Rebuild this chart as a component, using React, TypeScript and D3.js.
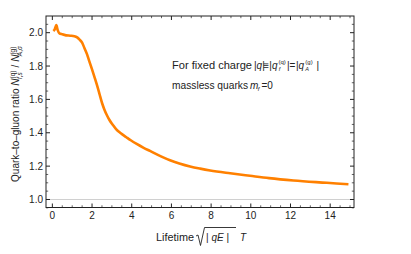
import React from "react";
import * as d3 from "d3";

// curve (lifetime, ratio)
const lifetime = [0.05, 0.12, 0.2, 0.27, 0.35, 0.5, 0.69, 0.9, 1.11, 1.25, 1.36, 1.5, 1.61, 1.75, 1.86, 2.0, 2.12, 2.25, 2.37, 2.5, 2.62, 2.75, 2.87, 3.05, 3.21, 3.45, 3.71, 3.95, 4.25, 4.6, 4.92, 5.5, 5.93, 6.4, 6.94, 7.45, 7.95, 8.96, 9.96, 10.92, 12.15, 13.83, 14.92];
const ratio = [2.01, 2.02, 2.045, 2.015, 1.997, 1.99, 1.984, 1.982, 1.979, 1.972, 1.96, 1.94, 1.91, 1.87, 1.83, 1.78, 1.735, 1.685, 1.635, 1.58, 1.54, 1.505, 1.478, 1.447, 1.422, 1.397, 1.375, 1.355, 1.333, 1.31, 1.291, 1.257, 1.235, 1.216, 1.198, 1.185, 1.174, 1.157, 1.142, 1.128, 1.114, 1.1, 1.091];

const xTicks = [0, 2, 4, 6, 8, 10, 12, 14];
const yTicks = [1.0, 1.2, 1.4, 1.6, 1.8, 2.0];

const W = 411, H = 254;
const m = { left: 46, right: 354, top: 16, bottom: 207.5 };
const font = "'Liberation Sans', Arial, sans-serif";
const ink = "#222";

export default function App() {
  const x = d3.scaleLinear().domain([-0.32, 15.2]).range([m.left, m.right]);
  const y = d3.scaleLinear().domain([0.952, 2.1]).range([m.bottom, m.top]);

  const pts: [number, number][] = lifetime.map((t, i) => [t, ratio[i]]);
  const line = d3.line<[number, number]>()
    .x(d => x(d[0]))
    .y(d => y(d[1]))
    .curve(d3.curveMonotoneX);

  const xMinor = d3.range(0, 15.01, 0.5).filter(v => !xTicks.includes(v));
  const yMinor = d3.range(0.95, 2.1, 0.05).map(v => +v.toFixed(2)).filter(v => !yTicks.some(t => Math.abs(t - v) < 1e-6));

  return (
    <svg width={W} height={H} style={{ position: "absolute", left: 0, top: 0, background: "#fff" }} fontFamily={font}>
      {/* reference line at 1 */}
      <line x1={m.left} x2={m.right} y1={y(1)} y2={y(1)} stroke="#d0d0d0" strokeWidth={1} />

      <path d={line(pts) || ""} fill="none" stroke="#ff8000" strokeWidth={2.6} strokeLinejoin="round" />

      {/* frame */}
      <rect x={m.left} y={m.top} width={m.right - m.left} height={m.bottom - m.top} fill="none" stroke={ink} strokeWidth={1} />

      {/* x ticks bottom + top */}
      {xTicks.map(v => (
        <g key={"xt" + v}>
          <line x1={x(v)} x2={x(v)} y1={m.bottom} y2={m.bottom - 4} stroke={ink} />
          <line x1={x(v)} x2={x(v)} y1={m.top} y2={m.top + 4} stroke={ink} />
          <text x={x(v)} y={219} fontSize={10} textAnchor="middle" fill={ink}>{v}</text>
        </g>
      ))}
      {xMinor.map(v => (
        <g key={"xm" + v}>
          <line x1={x(v)} x2={x(v)} y1={m.bottom} y2={m.bottom - 2.2} stroke={ink} strokeWidth={0.7} />
          <line x1={x(v)} x2={x(v)} y1={m.top} y2={m.top + 2.2} stroke={ink} strokeWidth={0.7} />
        </g>
      ))}

      {/* y ticks left + right */}
      {yTicks.map(v => (
        <g key={"yt" + v}>
          <line x1={m.left} x2={m.left + 4} y1={y(v)} y2={y(v)} stroke={ink} />
          <line x1={m.right} x2={m.right - 4} y1={y(v)} y2={y(v)} stroke={ink} />
          <text x={43} y={y(v) + 3.6} fontSize={10} textAnchor="end" fill={ink}>{v.toFixed(1)}</text>
        </g>
      ))}
      {yMinor.map(v => (
        <g key={"ym" + v}>
          <line x1={m.left} x2={m.left + 2.2} y1={y(v)} y2={y(v)} stroke={ink} strokeWidth={0.7} />
          <line x1={m.right} x2={m.right - 2.2} y1={y(v)} y2={y(v)} stroke={ink} strokeWidth={0.7} />
        </g>
      ))}

      {/* annotation */}
      <g fontSize={10} fill={ink}>
        <text x={172} y={69} textLength={80} lengthAdjust="spacingAndGlyphs">For fixed charge</text>
        <text x={254} y={69}>|<tspan fontStyle="italic">q</tspan>|</text>
        <text x={263.3} y={69}>≡</text>
        <text x={269.3} y={69}>|<tspan fontStyle="italic">q</tspan></text>
        <text x={278.5} y={63.5} fontSize={6}>(q)</text>
        <text x={278.8} y={71} fontSize={5.5} fontStyle="italic">f</text>
        <text x={287} y={69}>|</text>
        <text x={289.5} y={69}>=</text>
        <text x={296} y={69}>|<tspan fontStyle="italic">q</tspan></text>
        <text x={305.3} y={63.5} fontSize={6}>(g)</text>
        <text x={305.3} y={71} fontSize={5.5} fontStyle="italic">A</text>
        <text x={316.5} y={69}>|</text>
      </g>
      <g fontSize={10} fill={ink}>
        <text x={172} y={89} textLength={76} lengthAdjust="spacingAndGlyphs">massless quarks</text>
        <text x={250} y={89} fontStyle="italic">m</text>
        <text x={257.7} y={91} fontSize={6} fontStyle="italic">f</text>
        <text x={261.5} y={89}>=0</text>
      </g>

      {/* x label */}
      <text x={156} y={241} fontSize={10} fill={ink} textLength={38} lengthAdjust="spacingAndGlyphs">Lifetime</text>
      <path d="M196,236 L198,235 L200.5,245.5 L204.5,227.5 L236,227.5" fill="none" stroke={ink} strokeWidth={0.9} />
      <text x={206} y={241} fontSize={10} fill={ink}>| <tspan fontStyle="italic">qE</tspan> |</text>
      <text x={240} y={241} fontSize={10} fill={ink} fontStyle="italic">T</text>

      {/* y label */}
      <text transform="translate(19,114) rotate(-90)" fontSize={10} fill={ink} textAnchor="middle">
        Quark–to–gluon ratio <tspan fontStyle="italic">N</tspan>
        <tspan fontSize={6.5} dy={-4}>(q)</tspan>
        <tspan fontSize={6.5} dx={-8.5} dy={7}>
          <tspan fontStyle="italic">f</tspan>,<tspan fontStyle="italic">s</tspan>
        </tspan>
        <tspan dy={-3} dx={2}> / </tspan>
        <tspan fontStyle="italic">N</tspan>
        <tspan fontSize={6.5} dy={-4}>(g)</tspan>
        <tspan fontSize={6.5} dx={-9.5} dy={7}>
          <tspan fontStyle="italic">A</tspan>,<tspan fontStyle="italic">σ</tspan>
        </tspan>
      </text>
    </svg>
  );
}
